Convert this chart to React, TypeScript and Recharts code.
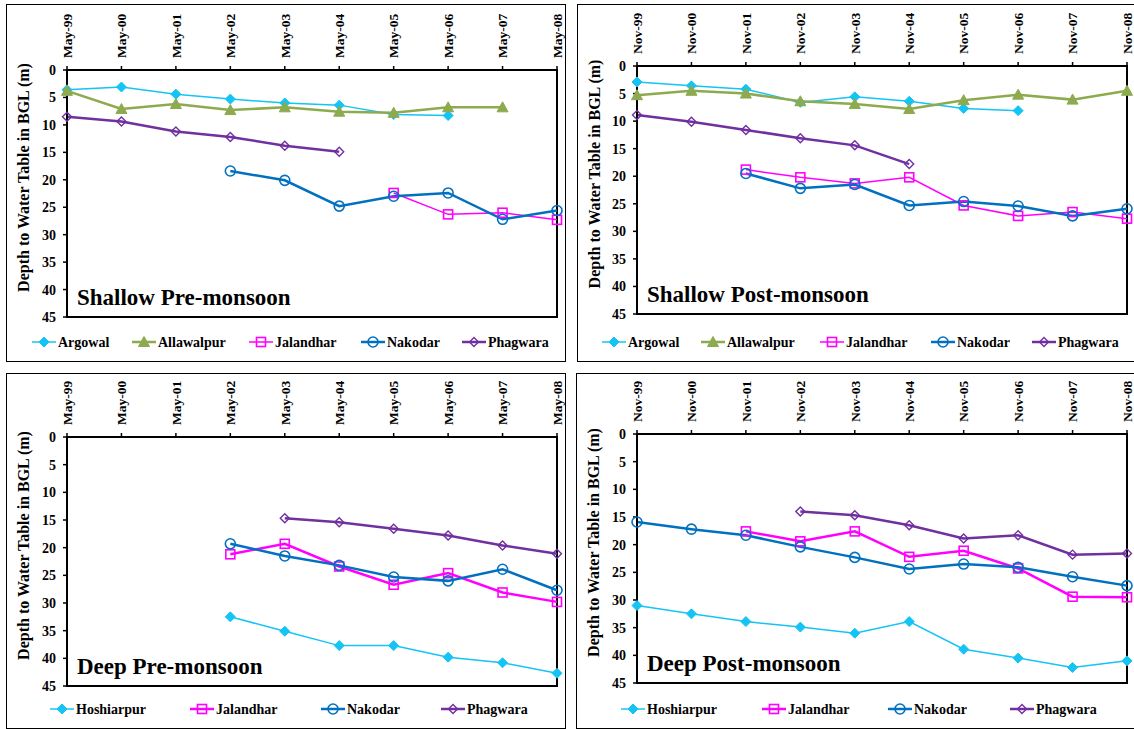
import React from 'react';
import { LineChart, Line, XAxis, YAxis, ReferenceArea, Label } from 'recharts';

const FONT = 'Liberation Serif, Times New Roman, DejaVu Serif, serif';

// ---------- categories ----------
const mayCategories = ['May-99', 'May-00', 'May-01', 'May-02', 'May-03', 'May-04', 'May-05', 'May-06', 'May-07', 'May-08'];
const novCategories = ['Nov-99', 'Nov-00', 'Nov-01', 'Nov-02', 'Nov-03', 'Nov-04', 'Nov-05', 'Nov-06', 'Nov-07', 'Nov-08'];
const depthTicks = [0, 5, 10, 15, 20, 25, 30, 35, 40, 45];

// ---------- Shallow Pre-monsoon ----------
const argowalPre = [3.6, 3.1, 4.4, 5.3, 6.0, 6.4, 8.1, 8.3, null, null];
const allawalpurPre = [3.8, 7.1, 6.2, 7.3, 6.8, 7.6, 7.8, 6.8, 6.8, null];
const jalandharShallowPre = [null, null, null, null, null, null, 22.4, 26.3, 26.0, 27.3];
const nakodarShallowPre = [null, null, null, 18.4, 20.1, 24.8, 23.0, 22.4, 27.2, 25.6];
const phagwaraShallowPre = [8.5, 9.4, 11.2, 12.2, 13.8, 14.9, null, null, null, null];

// ---------- Shallow Post-monsoon ----------
const argowalPost = [2.9, 3.6, 4.2, 6.6, 5.6, 6.4, 7.7, 8.1, null, null];
const allawalpurPost = [5.3, 4.5, 5.0, 6.4, 6.9, 7.8, 6.2, 5.2, 6.1, 4.5];
const jalandharShallowPost = [null, null, 18.8, 20.2, 21.3, 20.2, 25.3, 27.2, 26.5, 27.7];
const nakodarShallowPost = [null, null, 19.5, 22.2, 21.5, 25.3, 24.6, 25.4, 27.2, 25.9];
const phagwaraShallowPost = [8.9, 10.1, 11.6, 13.1, 14.4, 17.8, null, null, null, null];

// ---------- Deep Pre-monsoon ----------
const hoshiarpurPre = [null, null, null, 32.5, 35.1, 37.7, 37.7, 39.8, 40.8, 42.7];
const jalandharDeepPre = [null, null, null, 21.2, 19.3, 23.4, 26.7, 24.6, 28.1, 29.8];
const nakodarDeepPre = [null, null, null, 19.3, 21.5, 23.2, 25.3, 26.0, 23.9, 27.7];
const phagwaraDeepPre = [null, null, null, null, 14.7, 15.4, 16.6, 17.8, 19.6, 21.1];

// ---------- Deep Post-monsoon ----------
const hoshiarpurPost = [31.0, 32.5, 33.9, 34.9, 36.0, 33.9, 38.9, 40.5, 42.2, 41.0];
const jalandharDeepPost = [null, null, 17.6, 19.4, 17.6, 22.2, 21.1, 24.3, 29.4, 29.5];
const nakodarDeepPost = [15.9, 17.2, 18.3, 20.4, 22.3, 24.4, 23.5, 24.1, 25.8, 27.4];
const phagwaraDeepPost = [null, null, null, 14.0, 14.7, 16.5, 18.9, 18.3, 21.8, 21.6];

// ---------- styles ----------
const CYAN = '#14C4F4';
const OLIVE = '#8DAA4E';
const MAGENTA = '#FF00FF';
const BLUE = '#0070C0';
const PURPLE = '#7030A0';

type Shape = 'diamondFilled' | 'triangle' | 'square' | 'circle' | 'diamond';
type Series = { name: string; values: (number | null)[]; color: string; width: number; shape: Shape };

function marker(shape: Shape, color: string, cx: number, cy: number, key?: any) {
  switch (shape) {
    case 'diamondFilled':
      return <path key={key} d={`M${cx},${cy - 5}L${cx + 5},${cy}L${cx},${cy + 5}L${cx - 5},${cy}Z`} fill={color} stroke={color} strokeWidth={1} />;
    case 'triangle':
      return <path key={key} d={`M${cx},${cy - 5.5}L${cx + 5.5},${cy + 4.5}L${cx - 5.5},${cy + 4.5}Z`} fill={color} stroke={color} strokeWidth={1} />;
    case 'square':
      return <rect key={key} x={cx - 4.5} y={cy - 4.5} width={9} height={9} fill="none" stroke={color} strokeWidth={1.6} />;
    case 'circle':
      return <circle key={key} cx={cx} cy={cy} r={5} fill="none" stroke={color} strokeWidth={1.6} />;
    case 'diamond':
    default:
      return <path key={key} d={`M${cx},${cy - 4.5}L${cx + 4.5},${cy}L${cx},${cy + 4.5}L${cx - 4.5},${cy}Z`} fill="none" stroke={color} strokeWidth={1.4} />;
  }
}

const shallowPreSeries: Series[] = [
  { name: 'Argowal', values: argowalPre, color: CYAN, width: 1.5, shape: 'diamondFilled' },
  { name: 'Allawalpur', values: allawalpurPre, color: OLIVE, width: 2.5, shape: 'triangle' },
  { name: 'Jalandhar', values: jalandharShallowPre, color: MAGENTA, width: 1.5, shape: 'square' },
  { name: 'Nakodar', values: nakodarShallowPre, color: BLUE, width: 2.5, shape: 'circle' },
  { name: 'Phagwara', values: phagwaraShallowPre, color: PURPLE, width: 2.5, shape: 'diamond' },
];
const shallowPostSeries: Series[] = [
  { name: 'Argowal', values: argowalPost, color: CYAN, width: 1.5, shape: 'diamondFilled' },
  { name: 'Allawalpur', values: allawalpurPost, color: OLIVE, width: 2.5, shape: 'triangle' },
  { name: 'Jalandhar', values: jalandharShallowPost, color: MAGENTA, width: 1.5, shape: 'square' },
  { name: 'Nakodar', values: nakodarShallowPost, color: BLUE, width: 2.5, shape: 'circle' },
  { name: 'Phagwara', values: phagwaraShallowPost, color: PURPLE, width: 2.5, shape: 'diamond' },
];
const deepPreSeries: Series[] = [
  { name: 'Hoshiarpur', values: hoshiarpurPre, color: CYAN, width: 1.5, shape: 'diamondFilled' },
  { name: 'Jalandhar', values: jalandharDeepPre, color: MAGENTA, width: 2.5, shape: 'square' },
  { name: 'Nakodar', values: nakodarDeepPre, color: BLUE, width: 2.5, shape: 'circle' },
  { name: 'Phagwara', values: phagwaraDeepPre, color: PURPLE, width: 2.5, shape: 'diamond' },
];
const deepPostSeries: Series[] = [
  { name: 'Hoshiarpur', values: hoshiarpurPost, color: CYAN, width: 1.5, shape: 'diamondFilled' },
  { name: 'Jalandhar', values: jalandharDeepPost, color: MAGENTA, width: 2.5, shape: 'square' },
  { name: 'Nakodar', values: nakodarDeepPost, color: BLUE, width: 2.5, shape: 'circle' },
  { name: 'Phagwara', values: phagwaraDeepPost, color: PURPLE, width: 2.5, shape: 'diamond' },
];

const txt = { fontFamily: FONT, fontWeight: 700 } as React.CSSProperties;

const XTick = (props: any) => {
  const { x, y, payload } = props;
  return (
    <text
      transform={`translate(${x},${y}) rotate(-90)`}
      textAnchor="start"
      dy="0.35em"
      style={{ ...txt, fontSize: 13.5 }}
      fill="#000"
    >
      {payload.value}
    </text>
  );
};

const YTitle = (props: any) => {
  const vb = props.viewBox || { x: 0, y: 0, width: 0, height: 0 };
  const cx = vb.x + 16;
  const cy = vb.y + vb.height / 2 - 16;
  return (
    <text
      transform={`translate(${cx},${cy}) rotate(-90)`}
      textAnchor="middle"
      dy="0.35em"
      style={{ ...txt, fontSize: 16 }}
      fill="#000"
    >
      Depth to Water Table in BGL (m)
    </text>
  );
};

type PanelProps = {
  box: { left: number; top: number; width: number; height: number };
  plot: { left: number; top: number; right: number; bottom: number };
  categories: string[];
  series: Series[];
  title: string;
  legendX: number[];
  legendY: number;
};

function Panel({ box, plot, categories, series, title, legendX, legendY }: PanelProps) {
  const data = categories.map((c, i) => {
    const row: any = { cat: c };
    series.forEach((s) => {
      row[s.name] = s.values[i];
    });
    return row;
  });
  const innerW = box.width - 2;
  const chartH = plot.bottom + 10;
  return (
    <div
      style={{
        position: 'absolute',
        left: box.left,
        top: box.top,
        width: box.width,
        height: box.height,
        border: '1px solid #000',
        boxSizing: 'border-box',
        background: '#fff',
      }}
    >
      <LineChart
        width={innerW}
        height={chartH}
        data={data}
        margin={{ top: 0, right: innerW - plot.right, left: 0, bottom: 10 }}
      >
        <XAxis
          dataKey="cat"
          orientation="top"
          height={plot.top}
          interval={0}
          tick={<XTick />}
          tickSize={4}
          tickMargin={8}
          axisLine={{ stroke: '#000', strokeWidth: 2 }}
          tickLine={{ stroke: '#000', strokeWidth: 1.5 }}
        />
        <YAxis
          type="number"
          domain={[0, 45]}
          ticks={depthTicks}
          reversed
          width={plot.left}
          interval={0}
          tickSize={4}
          tickMargin={7}
          axisLine={{ stroke: '#000', strokeWidth: 2 }}
          tickLine={{ stroke: '#000', strokeWidth: 1.5 }}
          tick={{ style: { ...txt, fontSize: 14 }, fill: '#000' }}
        >
          <Label content={<YTitle />} />
        </YAxis>
        <ReferenceArea
          x1={categories[0]}
          x2={categories[categories.length - 1]}
          y1={0}
          y2={45}
          fill="none"
          stroke="#000"
          strokeWidth={2}
          ifOverflow="visible"
        />
        {series.map((s) => (
          <Line
            key={s.name}
            dataKey={s.name}
            stroke={s.color}
            strokeWidth={s.width}
            isAnimationActive={false}
            connectNulls={false}
            dot={(p: any) =>
              p.cy == null || p.value == null ? <g key={p.index} /> : marker(s.shape, s.color, p.cx, p.cy, p.index)
            }
            activeDot={false}
          />
        ))}
      </LineChart>
      <svg
        width={innerW}
        height={box.height - 2}
        style={{ position: 'absolute', left: 0, top: 0, pointerEvents: 'none', overflow: 'visible' }}
      >
        <text x={plot.left + 10} y={plot.bottom - 12} style={{ ...txt, fontSize: 23 }} fill="#000">
          {title}
        </text>
        {series.map((s, i) => (
          <g key={s.name}>
            <line x1={legendX[i]} x2={legendX[i] + 24} y1={legendY} y2={legendY} stroke={s.color} strokeWidth={s.width} />
            {marker(s.shape, s.color, legendX[i] + 12, legendY)}
            <text x={legendX[i] + 26} y={legendY} dy="0.35em" style={{ ...txt, fontSize: 14 }} fill="#000">
              {s.name}
            </text>
          </g>
        ))}
      </svg>
    </div>
  );
}

export default function App() {
  return (
    <div
      style={{
        position: 'absolute',
        left: 0,
        top: 0,
        width: 1134,
        height: 729,
        overflow: 'hidden',
        background: '#fff',
        fontFamily: FONT,
      }}
    >
      <style>{`.recharts-surface{overflow:visible} .recharts-wrapper text{font-family:${FONT};}`}</style>
      <Panel
        box={{ left: 6, top: 4, width: 560, height: 358 }}
        plot={{ left: 60, top: 65, right: 550, bottom: 312 }}
        categories={mayCategories}
        series={shallowPreSeries}
        title="Shallow Pre-monsoon"
        legendX={[25, 125, 242, 354, 455]}
        legendY={337}
      />
      <Panel
        box={{ left: 577, top: 4, width: 570, height: 358 }}
        plot={{ left: 59, top: 61, right: 549, bottom: 309 }}
        categories={novCategories}
        series={shallowPostSeries}
        title="Shallow Post-monsoon"
        legendX={[24, 123, 242, 353, 454]}
        legendY={337}
      />
      <Panel
        box={{ left: 6, top: 373, width: 560, height: 356 }}
        plot={{ left: 60, top: 63, right: 550, bottom: 312 }}
        categories={mayCategories}
        series={deepPreSeries}
        title="Deep Pre-monsoon"
        legendX={[43, 183, 314, 434]}
        legendY={335}
      />
      <Panel
        box={{ left: 576, top: 373, width: 570, height: 356 }}
        plot={{ left: 60, top: 60, right: 550, bottom: 309 }}
        categories={novCategories}
        series={deepPostSeries}
        title="Deep Post-monsoon"
        legendX={[44, 185, 311, 433]}
        legendY={335}
      />
    </div>
  );
}
